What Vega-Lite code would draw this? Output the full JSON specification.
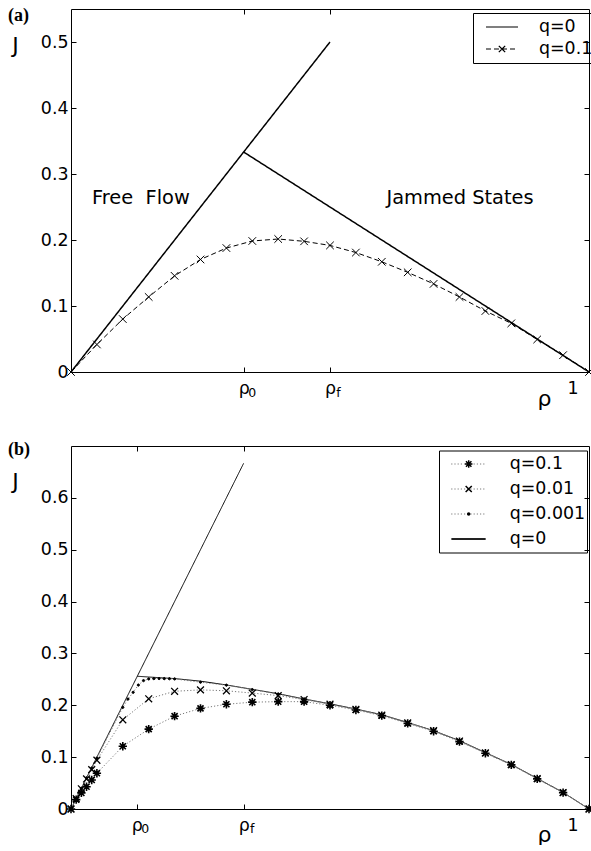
{
  "$schema": "https://vega.github.io/schema/vega-lite/v6.json",
  "padding": {"left": 8, "top": 7, "right": 0, "bottom": 0},
  "spacing": 32,
  "resolve": {
    "scale": {"color": "independent", "strokeDash": "independent", "shape": "independent", "strokeWidth": "independent"},
    "legend": {"color": "independent", "strokeDash": "independent", "shape": "independent"}
  },
  "config": {
    "view": {"stroke": null},
    "font": "DejaVu Sans",
    "axis": {
      "domainColor": "black", "domainWidth": 1, "tickColor": "black", "tickSize": -5, "tickWidth": 1,
      "labelFont": "DejaVu Sans", "labelFontSize": 17.4, "labelColor": "black", "grid": false,
      "titleFont": "DejaVu Sans", "titleFontSize": 22, "titleFontWeight": "normal", "titleColor": "black"
    },
    "axisX": {"labelPadding": 12},
    "axisY": {"labelPadding": 8},
    "legend": {"labelFont": "DejaVu Sans", "labelFontSize": 17.4, "labelColor": "black", "labelFontWeight": "normal"}
  },
  "datasets": {
    "top": [
      {"series": "q=0", "seg": "free", "rho": 0, "J": 0},
      {"series": "q=0", "seg": "free", "rho": 0.5, "J": 0.5},
      {"series": "q=0", "seg": "jam", "rho": 0.3333, "J": 0.3333},
      {"series": "q=0", "seg": "jam", "rho": 1, "J": 0},
      {"series": "q=0.1", "seg": "a", "rho": 0, "J": 0},
      {"series": "q=0.1", "seg": "a", "rho": 0.05, "J": 0.0417},
      {"series": "q=0.1", "seg": "a", "rho": 0.1, "J": 0.0802},
      {"series": "q=0.1", "seg": "a", "rho": 0.15, "J": 0.1137},
      {"series": "q=0.1", "seg": "a", "rho": 0.2, "J": 0.1457},
      {"series": "q=0.1", "seg": "a", "rho": 0.25, "J": 0.1705},
      {"series": "q=0.1", "seg": "a", "rho": 0.3, "J": 0.1878},
      {"series": "q=0.1", "seg": "a", "rho": 0.35, "J": 0.1985},
      {"series": "q=0.1", "seg": "a", "rho": 0.4, "J": 0.2015},
      {"series": "q=0.1", "seg": "a", "rho": 0.45, "J": 0.198},
      {"series": "q=0.1", "seg": "a", "rho": 0.5, "J": 0.1918},
      {"series": "q=0.1", "seg": "a", "rho": 0.55, "J": 0.181},
      {"series": "q=0.1", "seg": "a", "rho": 0.6, "J": 0.167},
      {"series": "q=0.1", "seg": "a", "rho": 0.65, "J": 0.151},
      {"series": "q=0.1", "seg": "a", "rho": 0.7, "J": 0.1335},
      {"series": "q=0.1", "seg": "a", "rho": 0.75, "J": 0.1137},
      {"series": "q=0.1", "seg": "a", "rho": 0.8, "J": 0.0924},
      {"series": "q=0.1", "seg": "a", "rho": 0.85, "J": 0.0737},
      {"series": "q=0.1", "seg": "a", "rho": 0.9, "J": 0.0493},
      {"series": "q=0.1", "seg": "a", "rho": 0.95, "J": 0.0255},
      {"series": "q=0.1", "seg": "a", "rho": 1, "J": 0}
    ],
    "bottom": [
      {"series": "q=0", "seg": "free", "rho": 0, "J": 0},
      {"series": "q=0", "seg": "free", "rho": 0.3333, "J": 0.6667},
      {"series": "q=0", "seg": "jam", "rho": 0.128, "J": 0.256},
      {"series": "q=0", "seg": "jam", "rho": 0.15, "J": 0.2545},
      {"series": "q=0", "seg": "jam", "rho": 0.2, "J": 0.2515},
      {"series": "q=0", "seg": "jam", "rho": 0.25, "J": 0.2465},
      {"series": "q=0", "seg": "jam", "rho": 0.3, "J": 0.2392},
      {"series": "q=0", "seg": "jam", "rho": 0.35, "J": 0.2308},
      {"series": "q=0", "seg": "jam", "rho": 0.4, "J": 0.2222},
      {"series": "q=0", "seg": "jam", "rho": 0.45, "J": 0.2122},
      {"series": "q=0", "seg": "jam", "rho": 0.5, "J": 0.2028},
      {"series": "q=0", "seg": "jam", "rho": 0.55, "J": 0.1928},
      {"series": "q=0", "seg": "jam", "rho": 0.6, "J": 0.1818},
      {"series": "q=0", "seg": "jam", "rho": 0.65, "J": 0.1668},
      {"series": "q=0", "seg": "jam", "rho": 0.7, "J": 0.151},
      {"series": "q=0", "seg": "jam", "rho": 0.75, "J": 0.1318},
      {"series": "q=0", "seg": "jam", "rho": 0.8, "J": 0.1088},
      {"series": "q=0", "seg": "jam", "rho": 0.85, "J": 0.086},
      {"series": "q=0", "seg": "jam", "rho": 0.9, "J": 0.059},
      {"series": "q=0", "seg": "jam", "rho": 0.95, "J": 0.032},
      {"series": "q=0", "seg": "jam", "rho": 1, "J": 0},
      {"series": "q=0.1", "seg": "a", "rho": 0, "J": 0},
      {"series": "q=0.1", "seg": "a", "rho": 0.01, "J": 0.018},
      {"series": "q=0.1", "seg": "a", "rho": 0.02, "J": 0.031},
      {"series": "q=0.1", "seg": "a", "rho": 0.03, "J": 0.043},
      {"series": "q=0.1", "seg": "a", "rho": 0.04, "J": 0.056},
      {"series": "q=0.1", "seg": "a", "rho": 0.05, "J": 0.069},
      {"series": "q=0.1", "seg": "a", "rho": 0.1, "J": 0.121},
      {"series": "q=0.1", "seg": "a", "rho": 0.15, "J": 0.154},
      {"series": "q=0.1", "seg": "a", "rho": 0.2, "J": 0.179},
      {"series": "q=0.1", "seg": "a", "rho": 0.25, "J": 0.194},
      {"series": "q=0.1", "seg": "a", "rho": 0.3, "J": 0.202},
      {"series": "q=0.1", "seg": "a", "rho": 0.35, "J": 0.206},
      {"series": "q=0.1", "seg": "a", "rho": 0.4, "J": 0.207},
      {"series": "q=0.1", "seg": "a", "rho": 0.45, "J": 0.207},
      {"series": "q=0.1", "seg": "a", "rho": 0.5, "J": 0.2},
      {"series": "q=0.1", "seg": "a", "rho": 0.55, "J": 0.191},
      {"series": "q=0.1", "seg": "a", "rho": 0.6, "J": 0.18},
      {"series": "q=0.1", "seg": "a", "rho": 0.65, "J": 0.165},
      {"series": "q=0.1", "seg": "a", "rho": 0.7, "J": 0.15},
      {"series": "q=0.1", "seg": "a", "rho": 0.75, "J": 0.13},
      {"series": "q=0.1", "seg": "a", "rho": 0.8, "J": 0.1075},
      {"series": "q=0.1", "seg": "a", "rho": 0.85, "J": 0.085},
      {"series": "q=0.1", "seg": "a", "rho": 0.9, "J": 0.058},
      {"series": "q=0.1", "seg": "a", "rho": 0.95, "J": 0.0315},
      {"series": "q=0.1", "seg": "a", "rho": 1, "J": 0},
      {"series": "q=0.01", "seg": "a", "rho": 0, "J": 0},
      {"series": "q=0.01", "seg": "a", "rho": 0.01, "J": 0.02},
      {"series": "q=0.01", "seg": "a", "rho": 0.02, "J": 0.039},
      {"series": "q=0.01", "seg": "a", "rho": 0.03, "J": 0.058},
      {"series": "q=0.01", "seg": "a", "rho": 0.04, "J": 0.076},
      {"series": "q=0.01", "seg": "a", "rho": 0.05, "J": 0.094},
      {"series": "q=0.01", "seg": "a", "rho": 0.1, "J": 0.172},
      {"series": "q=0.01", "seg": "a", "rho": 0.15, "J": 0.2125},
      {"series": "q=0.01", "seg": "a", "rho": 0.2, "J": 0.227},
      {"series": "q=0.01", "seg": "a", "rho": 0.25, "J": 0.2297},
      {"series": "q=0.01", "seg": "a", "rho": 0.3, "J": 0.228},
      {"series": "q=0.01", "seg": "a", "rho": 0.35, "J": 0.2235},
      {"series": "q=0.01", "seg": "a", "rho": 0.4, "J": 0.2187},
      {"series": "q=0.01", "seg": "a", "rho": 0.45, "J": 0.211},
      {"series": "q=0.01", "seg": "a", "rho": 0.5, "J": 0.202},
      {"series": "q=0.01", "seg": "a", "rho": 0.55, "J": 0.192},
      {"series": "q=0.01", "seg": "a", "rho": 0.6, "J": 0.181},
      {"series": "q=0.01", "seg": "a", "rho": 0.65, "J": 0.166},
      {"series": "q=0.01", "seg": "a", "rho": 0.7, "J": 0.151},
      {"series": "q=0.01", "seg": "a", "rho": 0.75, "J": 0.131},
      {"series": "q=0.01", "seg": "a", "rho": 0.8, "J": 0.108},
      {"series": "q=0.01", "seg": "a", "rho": 0.85, "J": 0.0855},
      {"series": "q=0.01", "seg": "a", "rho": 0.9, "J": 0.0585},
      {"series": "q=0.01", "seg": "a", "rho": 0.95, "J": 0.0318},
      {"series": "q=0.01", "seg": "a", "rho": 1, "J": 0},
      {"series": "q=0.001", "seg": "a", "rho": 0, "J": 0},
      {"series": "q=0.001", "seg": "a", "rho": 0.01, "J": 0.02},
      {"series": "q=0.001", "seg": "a", "rho": 0.02, "J": 0.04},
      {"series": "q=0.001", "seg": "a", "rho": 0.03, "J": 0.06},
      {"series": "q=0.001", "seg": "a", "rho": 0.04, "J": 0.079},
      {"series": "q=0.001", "seg": "a", "rho": 0.05, "J": 0.098},
      {"series": "q=0.001", "seg": "a", "rho": 0.1, "J": 0.196},
      {"series": "q=0.001", "seg": "a", "rho": 0.11, "J": 0.212},
      {"series": "q=0.001", "seg": "a", "rho": 0.12, "J": 0.225},
      {"series": "q=0.001", "seg": "a", "rho": 0.13, "J": 0.239},
      {"series": "q=0.001", "seg": "a", "rho": 0.14, "J": 0.2476},
      {"series": "q=0.001", "seg": "a", "rho": 0.15, "J": 0.2508},
      {"series": "q=0.001", "seg": "a", "rho": 0.16, "J": 0.2514},
      {"series": "q=0.001", "seg": "a", "rho": 0.17, "J": 0.2515},
      {"series": "q=0.001", "seg": "a", "rho": 0.18, "J": 0.2514},
      {"series": "q=0.001", "seg": "a", "rho": 0.19, "J": 0.2512},
      {"series": "q=0.001", "seg": "a", "rho": 0.2, "J": 0.2508},
      {"series": "q=0.001", "seg": "a", "rho": 0.25, "J": 0.2445},
      {"series": "q=0.001", "seg": "a", "rho": 0.3, "J": 0.2388},
      {"series": "q=0.001", "seg": "a", "rho": 0.35, "J": 0.2302},
      {"series": "q=0.001", "seg": "a", "rho": 0.4, "J": 0.2218},
      {"series": "q=0.001", "seg": "a", "rho": 0.45, "J": 0.2118},
      {"series": "q=0.001", "seg": "a", "rho": 0.5, "J": 0.2025},
      {"series": "q=0.001", "seg": "a", "rho": 0.55, "J": 0.1925},
      {"series": "q=0.001", "seg": "a", "rho": 0.6, "J": 0.1815},
      {"series": "q=0.001", "seg": "a", "rho": 0.65, "J": 0.1665},
      {"series": "q=0.001", "seg": "a", "rho": 0.7, "J": 0.1508},
      {"series": "q=0.001", "seg": "a", "rho": 0.75, "J": 0.1315},
      {"series": "q=0.001", "seg": "a", "rho": 0.8, "J": 0.1085},
      {"series": "q=0.001", "seg": "a", "rho": 0.85, "J": 0.0858},
      {"series": "q=0.001", "seg": "a", "rho": 0.9, "J": 0.0588},
      {"series": "q=0.001", "seg": "a", "rho": 0.95, "J": 0.032},
      {"series": "q=0.001", "seg": "a", "rho": 1, "J": 0}
    ],
    "topSubs": [{"rho": 0.3333, "sub": "0"}, {"rho": 0.5, "sub": "f"}],
    "botSubs": [{"rho": 0.127, "sub": "0"}, {"rho": 0.3333, "sub": "f"}]
  },
  "vconcat": [
    {
      "width": 518,
      "height": 363,
      "layer": [
        {
          "data": {"name": "top"},
          "mark": {"type": "line", "color": "black"},
          "encoding": {
            "x": {"field": "rho", "type": "quantitative", "scale": {"domain": [0, 1], "nice": false, "zero": false},
              "axis": {"orient": "bottom", "values": [0.3333, 0.5, 1], "labelExpr": "datum.value == 1 ? '1' : 'ρ'",
                "labelOffset": {"condition": {"test": "datum.value == 1", "value": -11}, "value": 0},
                "title": "ρ", "titleAngle": 0, "titleX": 473, "titleY": 33, "titleAlign": "center", "titleBaseline": "alphabetic"}},
            "y": {"field": "J", "type": "quantitative", "scale": {"domain": [0, 0.55], "nice": false},
              "axis": {"orient": "left", "values": [0, 0.1, 0.2, 0.3, 0.4, 0.5], "labelExpr": "datum.value == 0 ? '0' : format(datum.value, '.1f')",
                "title": "J", "titleAngle": 0, "titleX": -56, "titleY": 36, "titleAlign": "center", "titleBaseline": "middle"}},
            "detail": {"field": "seg"},
            "strokeDash": {"field": "series", "type": "nominal", "scale": {"range": [[1, 0], [5, 3]]},
              "legend": {"orient": "none", "legendX": 402, "legendY": 4, "title": null, "symbolType": "M-1,0H1", "symbolSize": 1024, "symbolStrokeWidth": 1.2, "symbolStrokeColor": "black", "clipHeight": 22, "symbolOffset": 9, "labelOffset": 20, "padding": 3, "rowPadding": 0, "strokeColor": "black", "labelFont": "DejaVu Sans", "labelFontSize": 17.4, "labelExpr": "datum.label + '\u00a0\u2009'",
                "encode": {"symbols": {"update": {"stroke": {"value": "black"}, "shape": {"signal": "datum.value === 'q=0.1' ? 'M-1,0H1M0,0L0.2,0.2M0,0L-0.2,0.2M0,0L0.2,-0.2M0,0L-0.2,-0.2' : 'M-1,0H1'"}}}}}},
            "strokeWidth": {"field": "series", "type": "nominal", "scale": {"domain": ["q=0", "q=0.1"], "range": [1.5, 1]}, "legend": null}
          }
        },
        {
          "data": {"name": "top"},
          "transform": [{"filter": "datum.series == 'q=0.1'"}],
          "mark": {"type": "point", "size": 1444, "stroke": "black", "strokeWidth": 1, "filled": false, "opacity": 1, "shape": "M-0.2,-0.2L0.2,0.2M-0.2,0.2L0.2,-0.2"},
          "encoding": {
            "x": {"field": "rho", "type": "quantitative",
              "axis": {"orient": "top", "values": [0.3333, 0.5], "labels": false, "title": null}},
            "y": {"field": "J", "type": "quantitative",
              "axis": {"orient": "right", "values": [0.1, 0.2, 0.3, 0.4, 0.5], "labels": false, "title": null}}
          }
        },
        {
          "data": {"name": "topSubs"},
          "mark": {"type": "text", "fontSize": 12.5, "dx": 8.5, "dy": 21, "color": "black", "font": "DejaVu Sans"},
          "encoding": {
            "x": {"field": "rho", "type": "quantitative", "axis": null},
            "y": {"datum": 0, "type": "quantitative", "axis": null},
            "text": {"field": "sub"}
          }
        },
        {
          "data": {"values": [{}]},
          "mark": {"type": "text", "fontSize": 18, "fontWeight": "bold", "font": "Liberation Serif", "color": "black", "align": "left", "baseline": "middle", "dx": -63, "dy": 7},
          "encoding": {
            "x": {"datum": 0, "type": "quantitative", "axis": null},
            "y": {"datum": 0.55, "type": "quantitative", "axis": null},
            "text": {"value": "(a)"}
          }
        },
        {
          "data": {"values": [{}]},
          "mark": {"type": "text", "fontSize": 19.4, "color": "black", "font": "DejaVu Sans"},
          "encoding": {
            "x": {"datum": 0.135, "type": "quantitative", "axis": null},
            "y": {"datum": 0.264, "type": "quantitative", "axis": null},
            "text": {"value": "Free\u00a0 Flow"}
          }
        },
        {
          "data": {"values": [{}]},
          "mark": {"type": "text", "fontSize": 19.4, "color": "black", "font": "DejaVu Sans"},
          "encoding": {
            "x": {"datum": 0.751, "type": "quantitative", "axis": null},
            "y": {"datum": 0.264, "type": "quantitative", "axis": null},
            "text": {"value": "Jammed States"}
          }
        }
      ],
      "resolve": {"axis": {"x": "independent", "y": "independent"}}
    },
    {
      "width": 518,
      "height": 363,
      "layer": [
        {
          "data": {"name": "bottom"},
          "mark": {"type": "line", "strokeWidth": 1},
          "encoding": {
            "x": {"field": "rho", "type": "quantitative", "scale": {"domain": [0, 1], "nice": false, "zero": false},
              "axis": {"orient": "bottom", "values": [0.127, 0.3333, 1], "labelExpr": "datum.value == 1 ? '1' : 'ρ'",
                "labelOffset": {"condition": {"test": "datum.value == 1", "value": -11}, "value": 0},
                "title": "ρ", "titleAngle": 0, "titleX": 473, "titleY": 32, "titleAlign": "center", "titleBaseline": "alphabetic"}},
            "y": {"field": "J", "type": "quantitative", "scale": {"domain": [0, 0.7], "nice": false},
              "axis": {"orient": "left", "values": [0, 0.1, 0.2, 0.3, 0.4, 0.5, 0.6], "labelExpr": "datum.value == 0 ? '0' : format(datum.value, '.1f')",
                "title": "J", "titleAngle": 0, "titleX": -56, "titleY": 35, "titleAlign": "center", "titleBaseline": "middle"}},
            "detail": {"field": "seg"},
            "color": {"field": "series", "type": "nominal", "sort": ["q=0.1", "q=0.01", "q=0.001", "q=0"], "scale": {"range": ["#7a7a7a", "#7a7a7a", "#7a7a7a", "black"]}, "legend": null},
            "strokeDash": {"field": "series", "type": "nominal", "sort": ["q=0.1", "q=0.01", "q=0.001", "q=0"], "scale": {"range": [[1.2, 2], [1.2, 2], [1.2, 2], [1, 0]]},
              "legend": {"orient": "none", "legendX": 368, "legendY": 4.5, "title": null, "symbolType": "M-1,0H1", "symbolSize": 1156, "symbolStrokeWidth": 1, "clipHeight": 25, "symbolOffset": 10.7, "labelOffset": 24, "padding": 1, "rowPadding": 0, "strokeColor": "black", "labelFont": "DejaVu Sans", "labelFontSize": 17.4, "labelExpr": "datum.label + '\u00a0\u00a0\u2009'",
                "encode": {"symbols": {"update": {"stroke": {"signal": "datum.value === 'q=0' ? 'black' : '#7a7a7a'"}}}}}}
          }
        },
        {
          "data": {"name": "bottom"},
          "transform": [{"filter": "datum.series != 'q=0'"}],
          "mark": {"type": "point", "size": 1444, "stroke": "black", "fill": "black", "filled": true, "opacity": 1},
          "encoding": {
            "x": {"field": "rho", "type": "quantitative",
              "axis": {"orient": "top", "values": [0.127, 0.3333], "labels": false, "title": null}},
            "y": {"field": "J", "type": "quantitative",
              "axis": {"orient": "right", "values": [0.1, 0.2, 0.3, 0.4, 0.5, 0.6], "labels": false, "title": null}},
            "shape": {"field": "series", "type": "nominal",
              "scale": {"domain": ["q=0.1", "q=0.01", "q=0.001", "q=0"], "range": [
                "M-0.22,0H0.22M0,-0.22V0.22M-0.16,-0.16L0.16,0.16M-0.16,0.16L0.16,-0.16",
                "M-0.18,-0.18L0.18,0.18M-0.18,0.18L0.18,-0.18",
                "M-0.06,0A0.06,0.06 0 1,0 0.06,0A0.06,0.06 0 1,0 -0.06,0Z",
                "M-1,0H1"]},
              "legend": {"orient": "none", "legendX": 368, "legendY": 4.5, "title": null, "symbolSize": 1156, "clipHeight": 25, "symbolOffset": 10.7, "labelOffset": 24, "padding": 1, "rowPadding": 0, "labelColor": "transparent", "labelFont": "DejaVu Sans", "labelFontSize": 17.4, "labelExpr": "''",
                "encode": {"symbols": {"update": {"stroke": {"value": "black"}, "strokeWidth": {"value": 1.2}, "fill": {"value": "black"}, "opacity": {"value": 1}}}}}},
            "strokeWidth": {"field": "series", "type": "nominal", "scale": {"domain": ["q=0.1", "q=0.01", "q=0.001"], "range": [1.6, 1, 1]}, "legend": null}
          }
        },
        {
          "data": {"name": "botSubs"},
          "mark": {"type": "text", "fontSize": 12.5, "dx": 8.5, "dy": 20, "color": "black", "font": "DejaVu Sans"},
          "encoding": {
            "x": {"field": "rho", "type": "quantitative", "axis": null},
            "y": {"datum": 0, "type": "quantitative", "axis": null},
            "text": {"field": "sub"}
          }
        },
        {
          "data": {"values": [{}]},
          "mark": {"type": "text", "fontSize": 18, "fontWeight": "bold", "font": "Liberation Serif", "color": "black", "align": "left", "baseline": "middle", "dx": -63, "dy": 4},
          "encoding": {
            "x": {"datum": 0, "type": "quantitative", "axis": null},
            "y": {"datum": 0.7, "type": "quantitative", "axis": null},
            "text": {"value": "(b)"}
          }
        }
      ],
      "resolve": {"axis": {"x": "independent", "y": "independent"}}
    }
  ]
}
